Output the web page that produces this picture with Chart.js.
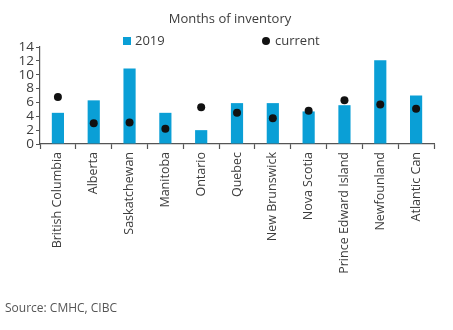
<!DOCTYPE html>
<html>
<head>
<meta charset="utf-8">
<script src="https://cdn.jsdelivr.net/npm/chart.js@4/dist/chart.umd.min.js"></script>
<style>
  html, body { margin: 0; padding: 0; background: #ffffff; }
  #wrap { width: 453px; height: 330px; position: relative; }
</style>
</head>
<body>
<div id="wrap"><canvas id="chart"></canvas></div>
<script>
// Provinces / regions
const categories = ['British Columbia', 'Alberta', 'Saskatchewan', 'Manitoba', 'Ontario', 'Quebec',
  'New Brunswick', 'Nova Scotia', 'Prince Edward Island', 'Newfounland', 'Atlantic Can'];
// Months of inventory, 2019
const values2019 = [4.5, 6.3, 10.9, 4.5, 2.0, 5.9, 5.9, 4.7, 5.6, 12.1, 7.0];
// Months of inventory, current
const valuesCurrent = [6.8, 3.0, 3.1, 2.2, 5.3, 4.5, 3.7, 4.8, 6.3, 5.7, 5.1];
const yTicks = [0, 2, 4, 6, 8, 10, 12, 14];

const titleText = 'Months of inventory';
const sourceText = 'Source: CMHC, CIBC';

const FONT = '"Open Sans", "DejaVu Sans", sans-serif';
const TEXT = '#3c3c3c';
const AXIS = '#555555';
const BLUE = '#0a9fd6';

// Title, legend and source note drawn around the plot
const decorations = {
  id: 'decorations',
  afterDraw(chart) {
    const ctx = chart.ctx;
    ctx.save();
    ctx.fillStyle = TEXT;
    ctx.textBaseline = 'middle';
    ctx.font = '13px ' + FONT;
    ctx.textAlign = 'center';
    ctx.fillText(titleText, 230, 19);

    // legend
    const ds = chart.data.datasets;
    ctx.textAlign = 'left';
    ctx.font = '13px ' + FONT;
    ctx.fillStyle = ds[0].backgroundColor;
    ctx.fillRect(123, 37, 8, 8);
    ctx.fillStyle = TEXT;
    ctx.fillText(ds[0].label, 135, 41);
    ctx.fillStyle = ds[1].pointBackgroundColor;
    ctx.beginPath();
    ctx.arc(266, 41, 4, 0, Math.PI * 2);
    ctx.fill();
    ctx.fillStyle = TEXT;
    ctx.fillText(ds[1].label, 275, 41);

    // source
    ctx.font = '12px ' + FONT;
    ctx.fillStyle = '#555555';
    ctx.fillText(sourceText, 5, 309);
    ctx.restore();
  }
};

new Chart(document.getElementById('chart'), {
  type: 'bar',
  data: {
    labels: categories,
    datasets: [
      {
        label: '2019',
        data: values2019,
        backgroundColor: BLUE,
        barPercentage: 0.34,
        categoryPercentage: 1.0,
        order: 2
      },
      {
        label: 'current',
        type: 'line',
        data: valuesCurrent,
        showLine: false,
        pointRadius: 4,
        pointHoverRadius: 4,
        pointBackgroundColor: '#111111',
        pointBorderColor: '#111111',
        pointBorderWidth: 0,
        order: 1
      }
    ]
  },
  options: {
    responsive: true,
    maintainAspectRatio: false,
    animation: false,
    layout: { padding: { top: 47, right: 19, left: 0, bottom: 0 } },
    plugins: {
      legend: { display: false },
      title: { display: false },
      tooltip: { enabled: false }
    },
    scales: {
      x: {
        offset: true,
        grid: {
          display: true,
          offset: true,
          drawOnChartArea: false,
          drawTicks: true,
          tickLength: 5,
          tickColor: AXIS,
          tickWidth: 1.2
        },
        border: { display: true, color: AXIS, width: 1.2 },
        ticks: {
          minRotation: 90,
          maxRotation: 90,
          autoSkip: false,
          padding: 3,
          color: TEXT,
          font: { family: FONT, size: 12.5 }
        },
        afterFit(scale) { scale.height = 186; }
      },
      y: {
        min: 0,
        max: 14,
        afterBuildTicks(scale) { scale.ticks = yTicks.map(v => ({ value: v })); },
        grid: {
          display: true,
          drawOnChartArea: false,
          drawTicks: true,
          tickLength: 4,
          tickColor: AXIS,
          tickWidth: 1
        },
        border: { display: true, color: AXIS, width: 1.2 },
        ticks: {
          autoSkip: false,
          padding: 2,
          color: TEXT,
          font: { family: FONT, size: 13.5 }
        },
        afterFit(scale) { scale.width = 40; }
      }
    }
  },
  plugins: [decorations]
});
</script>
</body>
</html>
